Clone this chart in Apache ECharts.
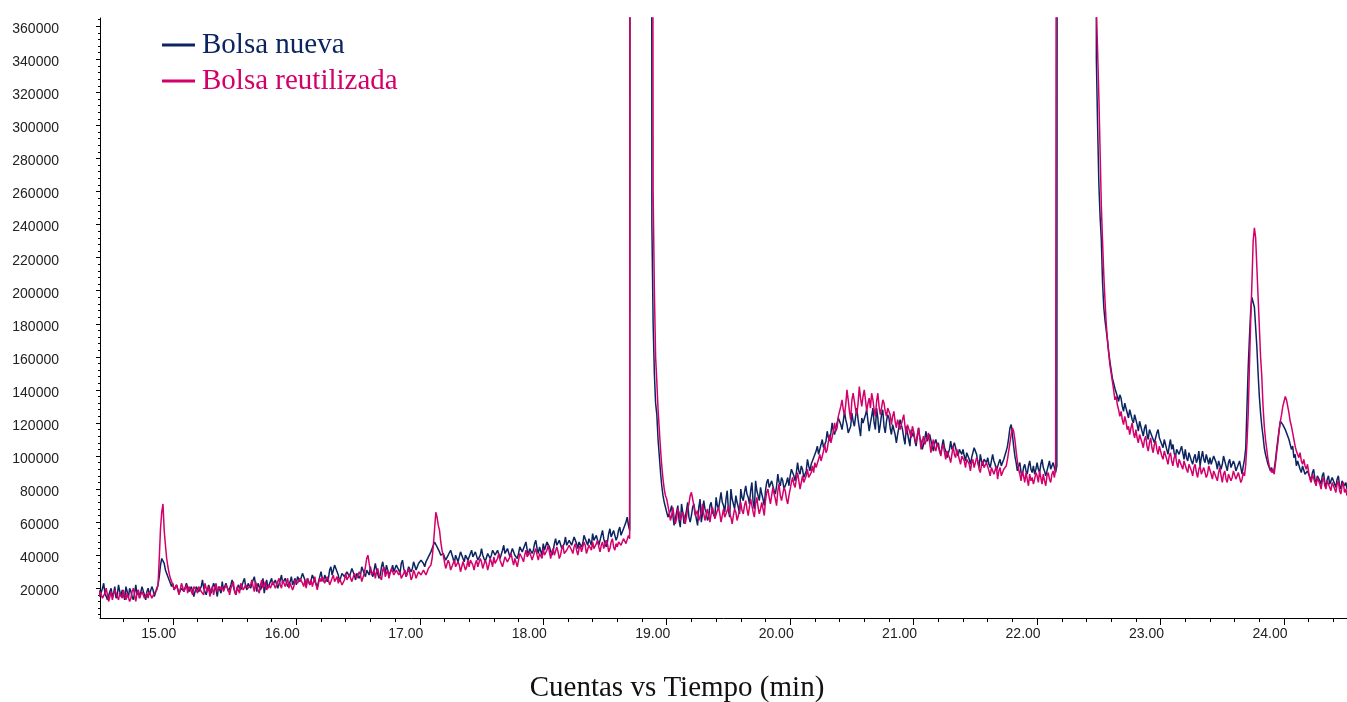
<!DOCTYPE html>
<html>
<head>
<meta charset="utf-8">
<script src="https://cdn.jsdelivr.net/npm/echarts@6/dist/echarts.min.js"></script>
<style>
  html, body { margin: 0; padding: 0; background: #fff; }
  #chart { width: 1347px; height: 702px; }
</style>
</head>
<body>
<div id="chart"></div>
<script>
// Chromatogram: counts vs retention time (min), two bag samples.
// Samples are taken every DT minutes starting at T0; values are in kilocounts.
const T0 = 14.40;
const DT = 0.01;

const seriesNames = ['Bolsa nueva', 'Bolsa reutilizada'];
const axisTitle = 'Cuentas vs Tiempo (min)';

const xTicks = [15, 16, 17, 18, 19, 20, 21, 22, 23, 24];
const yTicks = [20000, 40000, 60000, 80000, 100000, 120000, 140000, 160000, 180000,
  200000, 220000, 240000, 260000, 280000, 300000, 320000, 340000, 360000];

// Bolsa nueva (kilocounts), one row per 0.2 min
const nuevaK = [
  19,15,14,20,23,17,16,13,13,18,20,15,17,21,14,16,22,18,15,19,
  16,13,21,18,14,20,18,15,13,17,22,16,19,14,15,21,20,16,13,18,
  20,16,15,21,19,15,16,20,22,27,34,38,39,35,31,29,27,25,24,21,
  23,19,18,22,22,17,16,20,21,18,19,23,24,18,17,21,20,15,16,21,
  22,18,17,21,25,20,19,16,16,22,21,17,18,23,23,19,15,21,20,17,
  24,19,18,23,22,18,17,22,25,21,20,16,16,22,23,19,19,24,26,21,
  19,23,24,20,20,25,27,22,18,23,23,19,21,26,17,21,25,20,20,24,
  26,22,21,25,24,20,19,25,28,23,22,26,25,21,20,24,27,22,23,26,
  22,27,28,24,24,29,30,25,21,26,26,22,23,28,29,24,25,21,22,27,
  30,26,24,28,28,24,26,31,33,28,29,34,34,30,28,24,25,29,30,27,
  26,30,31,27,27,32,33,28,25,29,30,26,28,33,34,29,27,31,31,28,
  33,29,27,31,35,31,30,26,28,33,36,31,29,34,33,28,27,31,34,30,
  30,34,35,31,29,35,37,32,31,27,28,33,34,30,32,36,36,31,30,35,
  34,37,38,35,33,36,37,39,40,42,44,46,48,47,45,44,42,40,39,41,
  41,37,36,40,39,43,43,38,35,40,40,36,37,42,42,38,36,40,40,37,
  37,41,43,39,38,42,41,37,36,40,44,40,39,36,37,41,42,38,40,43,
  44,40,39,43,42,38,38,43,46,41,40,44,43,39,39,44,45,40,41,38,
  41,45,46,42,42,46,48,43,40,44,45,41,43,47,49,44,41,45,44,40,
  47,43,43,48,49,45,44,40,42,47,50,46,45,49,48,44,43,47,51,46,
  45,49,50,46,46,51,52,47,44,48,49,45,47,52,53,48,46,50,50,46,
  53,49,48,52,51,46,47,52,55,50,50,45,48,53,56,51,51,55,54,49,
  51,55,57,52,52,56,58,60,63,58,55,1500,1500,1500,1500,1500,1500,1500,1500,1500,
  1500,1500,1500,1500,1500,1500,1500,1500,240,180,150,132,125,110,100,90,82,76,72,69,
  68,63,62,67,70,64,58,62,66,70,61,57,71,66,59,63,67,72,63,60,
  64,69,71,66,62,58,69,74,60,65,73,68,66,61,63,70,72,66,67,63,
  75,70,68,73,78,72,70,66,74,79,67,63,80,74,71,68,76,72,69,65,
  80,75,73,78,82,77,75,71,79,84,72,68,85,79,76,73,81,77,74,70,
  79,84,86,81,80,85,84,79,77,82,89,84,82,87,85,80,80,84,87,82,
  88,92,93,88,85,90,96,91,89,94,92,87,86,91,98,94,91,95,95,99,
  98,103,106,101,101,107,110,105,104,109,115,111,109,114,120,115,113,117,118,123,
  124,119,116,121,127,122,119,114,113,118,126,121,118,124,129,122,117,112,123,120,
  119,125,128,121,115,120,124,129,120,116,129,123,114,119,125,128,118,114,121,125,
  123,117,113,119,120,113,108,113,117,122,121,116,111,107,118,114,110,106,116,112,
  114,109,106,112,117,111,109,104,104,110,115,109,108,113,112,106,103,108,110,106,
  108,103,101,106,110,105,103,99,99,104,109,104,104,108,107,102,100,104,105,101,
  104,100,97,102,103,98,95,99,100,105,106,101,96,93,101,97,94,98,99,96,
  99,95,93,97,101,97,95,91,92,96,98,94,94,98,99,103,106,111,117,119,
  113,106,100,96,91,94,96,90,88,93,95,91,89,94,97,92,90,94,89,92,
  96,92,90,95,98,93,91,88,88,94,97,92,91,96,95,90,94,1500,1500,1500,
  1500,1500,1500,1500,1500,1500,1500,1500,1500,1500,1500,1500,1500,1500,1500,1500,1500,1500,1500,1500,
  1500,1500,1500,1500,1500,1500,1500,1500,340,300,265,245,231,205,190,182,176,170,163,157,
  152,147,144,141,140,136,133,137,135,130,127,132,131,126,123,128,128,122,120,125,
  124,119,115,121,121,115,112,117,119,113,110,116,117,112,113,108,108,114,116,111,
  112,107,105,110,109,104,101,106,110,104,107,102,99,104,105,101,100,106,102,98,
  104,99,97,102,102,97,95,99,101,96,98,103,94,99,103,98,96,101,100,95,
  99,95,94,100,101,96,92,97,97,92,95,100,100,94,91,96,98,93,93,97,
  95,91,90,95,97,93,89,94,98,105,130,154,172,188,196,197,190,178,166,150,
  136,126,118,112,105,101,98,95,93,91,93,90,92,97,104,110,116,121,122,119,
  118,116,114,115,110,107,104,106,99,101,94,97,96,92,90,94,93,89,88,91,
  91,87,85,90,92,86,84,88,89,85,83,88,90,84,82,86,88,83,84,87,
  87,83,81,86,88,82,80,85,86,82,84,80,86
];

// Bolsa reutilizada (kilocounts), one row per 0.2 min
const reutilizadaK = [
  15,18,19,14,13,17,20,16,12,15,18,13,14,19,20,15,13,17,16,14,
  19,15,13,17,17,12,14,18,20,16,12,17,19,14,13,18,18,14,13,17,
  14,18,18,14,13,17,17,19,22,38,56,66,71,55,46,38,33,29,26,24,
  22,19,18,22,21,16,17,23,22,18,19,22,17,21,20,18,16,21,22,19,
  17,21,22,18,19,16,23,20,18,21,15,19,21,16,20,23,18,17,21,19,
  21,18,17,22,23,19,16,20,22,24,18,16,21,19,17,23,24,19,20,22,
  23,20,19,22,25,21,18,24,23,19,17,22,25,20,21,24,19,18,22,20,
  21,24,25,20,19,24,26,22,20,25,24,21,22,26,20,23,24,19,21,25,
  26,23,22,26,27,23,21,25,20,26,24,22,25,21,24,27,22,19,23,26,
  24,27,28,23,23,27,25,22,22,26,28,24,24,27,23,26,27,22,23,25,
  29,25,25,28,28,24,24,29,30,26,26,30,28,24,25,29,33,38,40,35,
  31,28,28,31,26,30,32,28,29,25,31,33,27,29,31,26,27,32,30,28,
  27,31,32,28,30,26,25,29,31,27,28,32,29,25,27,31,29,26,27,30,
  30,28,27,31,31,28,29,32,33,34,38,46,56,66,63,58,55,48,43,40,
  36,32,33,37,35,31,30,35,37,33,32,36,34,30,31,36,35,31,33,37,
  33,37,38,34,31,35,37,33,34,38,36,32,32,37,35,31,34,38,36,33,
  39,35,34,38,41,37,36,33,34,39,40,36,35,39,41,37,34,38,37,33,
  37,41,42,38,36,40,43,39,38,42,41,37,37,42,44,40,37,41,42,38,
  44,40,39,43,46,42,38,42,44,40,41,45,42,38,40,44,46,41,40,43,
  42,46,47,43,41,45,47,43,40,44,46,42,43,48,46,41,42,46,47,43,
  48,44,43,47,49,45,42,46,48,44,45,49,47,42,44,48,50,45,43,47,
  45,48,49,46,46,50,51,47,48,52,50,1500,1500,1500,1500,1500,1500,1500,1500,1500,
  1500,1500,1500,1500,1500,1500,1500,1500,1500,260,200,160,145,128,116,104,94,86,80,76,
  74,70,66,61,64,69,63,59,62,68,66,61,60,66,64,59,63,68,71,76,
  78,74,70,64,63,67,61,60,66,71,65,61,62,68,64,60,65,69,66,62,
  62,67,69,65,60,64,68,63,62,67,70,65,63,59,64,68,66,61,62,67,
  72,67,65,70,73,68,64,69,74,70,66,63,71,75,69,65,68,72,68,64,
  73,78,80,75,71,76,81,77,74,70,79,83,76,73,77,81,79,74,71,76,
  80,84,87,83,81,86,90,85,80,84,88,84,83,88,92,87,86,90,94,90,
  96,93,92,98,101,97,97,103,107,102,104,109,113,108,109,115,120,115,117,124,
  124,130,134,128,125,131,140,134,127,122,134,138,133,128,125,132,142,135,130,136,
  140,134,127,132,135,129,138,134,128,124,133,138,130,125,129,134,132,127,124,129,
  130,125,119,124,127,121,117,122,121,116,115,122,125,118,113,119,120,114,111,118,
  115,110,108,113,117,111,104,109,112,107,106,111,114,108,102,107,110,105,103,108,
  109,103,100,105,107,102,98,103,104,99,96,101,106,101,99,104,103,98,95,100,
  101,97,93,98,99,95,91,96,98,93,94,99,97,92,90,95,97,93,92,96,
  95,91,88,93,94,89,90,94,86,91,93,88,88,92,91,94,98,103,108,113,
  117,115,110,103,97,92,89,85,91,88,84,90,86,82,89,85,87,83,86,90,
  88,84,91,87,83,89,85,82,88,90,86,84,89,91,87,92,93,1500,1500,1500,
  1500,1500,1500,1500,1500,1500,1500,1500,1500,1500,1500,1500,1500,1500,1500,1500,1500,1500,1500,1500,
  1500,1500,1500,1500,1500,1500,1500,1500,370,345,318,285,252,230,210,194,180,170,162,155,
  150,145,140,134,136,131,128,124,127,122,119,124,121,116,118,113,117,120,114,111,
  116,111,108,113,114,108,105,110,112,106,103,108,111,105,102,107,109,104,101,106,
  105,100,98,103,104,98,95,100,102,97,94,99,101,96,93,98,99,94,92,97,
  97,92,90,95,96,91,88,93,95,90,87,92,94,89,88,93,92,87,89,94,
  94,89,86,91,92,87,85,90,93,88,84,89,91,86,84,89,90,85,87,91,
  91,86,85,90,89,84,86,90,88,95,108,126,155,182,205,230,238,232,214,196,
  178,160,148,130,118,110,104,98,94,92,90,92,89,95,102,108,115,121,125,130,
  133,136,134,130,126,121,118,114,110,106,103,101,99,102,97,95,98,94,92,95,
  90,86,84,89,90,84,82,87,88,83,80,85,87,82,80,85,86,81,79,84,
  84,80,78,83,85,79,77,82,84,78,80,76,82
];

const NAVY = '#0c2461';
const MAGENTA = '#d3006b';
const X_MIN = 14.41, X_MAX = 24.51;
const Y_MIN = 2000, Y_MAX = 365000;

const toPoints = arr => arr.map((v, i) => [+(T0 + i * DT).toFixed(2), v * 1000]);

// minor tick positions: every 0.2 min on x, every 4000 counts on y
const xMinor = [];
for (let k = Math.ceil(X_MIN / 0.2); k * 0.2 <= X_MAX; k++) {
  if (k % 5 !== 0) xMinor.push(+(k * 0.2).toFixed(2));
}
const yMinor = [];
for (let k = 1; k * 4000 <= Y_MAX; k++) {
  if (k % 5 !== 0) yMinor.push(k * 4000);
}

const sansFont = '"Liberation Sans", Arial, sans-serif';
const serifFont = '"Liberation Serif", "Times New Roman", serif';

const chart = echarts.init(document.getElementById('chart'), null, { renderer: 'canvas' });

chart.setOption({
  animation: false,
  backgroundColor: '#fff',
  grid: { left: 100, right: 0, top: 18, bottom: 84, containLabel: false },
  legend: {
    orient: 'vertical',
    left: 162,
    top: 30,
    padding: 0,
    icon: 'rect',
    itemWidth: 33,
    itemHeight: 3,
    itemGap: 6,
    selectedMode: false,
    textStyle: { fontFamily: serifFont, fontSize: 29, lineHeight: 30, padding: [0, 0, 0, 2] },
    data: [
      { name: seriesNames[0], textStyle: { color: NAVY } },
      { name: seriesNames[1], textStyle: { color: MAGENTA } }
    ]
  },
  xAxis: [
    {
      type: 'value', min: X_MIN, max: X_MAX, position: 'bottom',
      axisLine: { show: true, onZero: false, lineStyle: { color: '#000', width: 1 } },
      axisTick: { show: true, customValues: xTicks, length: 7, lineStyle: { color: '#000' } },
      axisLabel: {
        customValues: xTicks,
        formatter: v => v.toFixed(2),
        fontFamily: sansFont, fontSize: 14, color: '#222',
        margin: 9, padding: [0, 28, 0, 0]
      },
      splitLine: { show: false }
    },
    {
      type: 'value', min: X_MIN, max: X_MAX, position: 'bottom',
      axisLine: { show: false, onZero: false },
      axisTick: { show: true, customValues: xMinor, length: 4, lineStyle: { color: '#000' } },
      axisLabel: { show: false },
      splitLine: { show: false }
    }
  ],
  yAxis: [
    {
      type: 'value', min: Y_MIN, max: Y_MAX, position: 'left',
      axisLine: { show: true, onZero: false, lineStyle: { color: '#000', width: 1 } },
      axisTick: { show: true, customValues: yTicks, length: 4, lineStyle: { color: '#000' } },
      axisLabel: {
        customValues: yTicks,
        formatter: v => String(v),
        fontFamily: sansFont, fontSize: 14, color: '#222',
        margin: 41, verticalAlign: 'top', lineHeight: 6
      },
      splitLine: { show: false }
    },
    {
      type: 'value', min: Y_MIN, max: Y_MAX, position: 'left',
      axisLine: { show: false, onZero: false },
      axisTick: { show: true, customValues: yMinor, length: 2, lineStyle: { color: '#000' } },
      axisLabel: { show: false },
      splitLine: { show: false }
    }
  ],
  series: [
    {
      name: seriesNames[0], type: 'line', xAxisIndex: 0, yAxisIndex: 0,
      data: toPoints(nuevaK), showSymbol: false, symbol: 'none', clip: true,
      color: NAVY, lineStyle: { color: NAVY, width: 1.5 }
    },
    {
      name: seriesNames[1], type: 'line', xAxisIndex: 0, yAxisIndex: 0,
      data: toPoints(reutilizadaK), showSymbol: false, symbol: 'none', clip: true,
      color: MAGENTA, lineStyle: { color: MAGENTA, width: 1.5 }
    }
  ],
  graphic: [
    {
      type: 'text', x: 677, y: 688,
      style: {
        text: axisTitle, fontFamily: serifFont, fontSize: 29, fill: '#111',
        align: 'center', verticalAlign: 'middle'
      }
    }
  ]
});
</script>
</body>
</html>
